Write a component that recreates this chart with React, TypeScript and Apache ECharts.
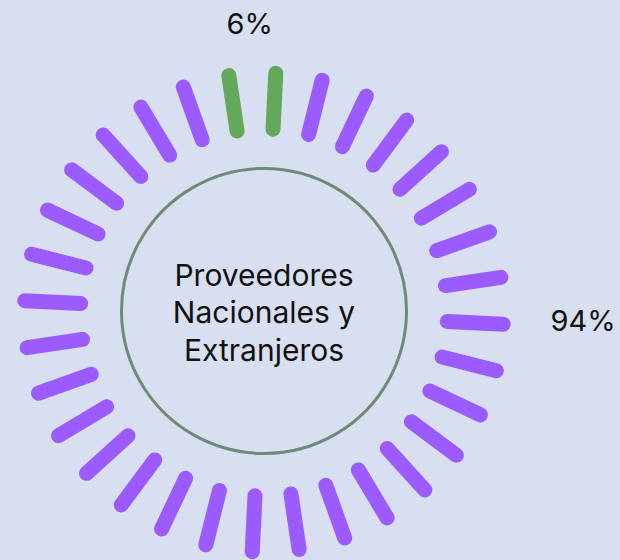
import React, { useEffect, useRef } from "react";
import * as echarts from "echarts";

// Shares of suppliers (percent)
const shareLabels = ["6%", "94%"];
const shareValues = [6, 94];
const dashCount = 32;
const groupColors = ["#64a85b", "#9b5bff"];
const centerTitle = "Proveedores\nNacionales y\nExtranjeros";

// layout constants
const CENTER_X = 264;
const CENTER_Y = 312.5;
const OUTER_R = 239.5;
const INNER_FRACTION = 183.5 / 239.5;
const LABEL_ANCHORS = [
  { angle: 0.5, r: 1.21 },
  { angle: 8.87, r: 1.333 },
];

export default function App() {
  const ref = useRef<HTMLDivElement>(null);
  useEffect(() => {
    if (!ref.current) return;
    const chart = echarts.init(ref.current, null, { renderer: "svg" });

    const total = shareValues.reduce((a, b) => a + b, 0);
    const firstCount = Math.round((shareValues[0] / total) * dashCount);
    const dashData: number[][] = [];
    for (let k = 0; k < dashCount; k++) {
      dashData.push([k, k < firstCount ? 0 : 1]);
    }
    const labelData = shareLabels.map((_, i) => [LABEL_ANCHORS[i].angle, LABEL_ANCHORS[i].r, i]);

    chart.setOption({
      animation: false,
      backgroundColor: "#d7dff0",
      polar: { center: [CENTER_X, CENTER_Y], radius: [0, OUTER_R] },
      angleAxis: {
        type: "value",
        min: 0,
        max: dashCount,
        startAngle: 90 + (360 / dashCount) * 0.75,
        clockwise: true,
        show: false,
      },
      radiusAxis: { type: "value", min: 0, max: 1, show: false },
      graphic: [
        {
          type: "circle",
          shape: { cx: CENTER_X, cy: 311, r: 142.5 },
          style: { fill: "none", stroke: "#6f8a79", lineWidth: 3 },
          z: 1,
        },
        {
          type: "text",
          x: CENTER_X,
          y: 312,
          style: {
            text: centerTitle,
            fontFamily: "Inter",
            fontSize: 30,
            lineHeight: 37.5,
            fill: "#111",
            align: "center",
            verticalAlign: "middle",
          },
          z: 2,
        },
      ],
      series: [
        {
          type: "custom",
          coordinateSystem: "polar",
          encode: { angle: 0, radius: 1 },
          data: dashData,
          renderItem: (params: any, api: any) => {
            const k = api.value(0);
            const g = api.value(1);
            const p1 = api.coord([INNER_FRACTION, k]);
            const p2 = api.coord([1, k]);
            return {
              type: "line",
              shape: { x1: p1[0], y1: p1[1], x2: p2[0], y2: p2[1] },
              style: { stroke: groupColors[g], lineWidth: 15, lineCap: "round" },
            };
          },
          silent: true,
        },
        {
          type: "custom",
          coordinateSystem: "polar",
          encode: { angle: 0, radius: 1 },
          data: labelData,
          renderItem: (params: any, api: any) => {
            const a = api.value(0);
            const r = api.value(1);
            const i = api.value(2);
            const p = api.coord([r, a]);
            return {
              type: "text",
              x: p[0],
              y: p[1],
              style: {
                text: shareLabels[i],
                fontFamily: "Inter",
                fontSize: 29,
                fill: "#111",
                align: "center",
                verticalAlign: "middle",
              },
            };
          },
          silent: true,
        },
      ],
    });
    return () => chart.dispose();
  }, []);
  return (
    <div
      ref={ref}
      style={{ position: "fixed", left: 0, top: 0, width: 620, height: 560 }}
    />
  );
}
